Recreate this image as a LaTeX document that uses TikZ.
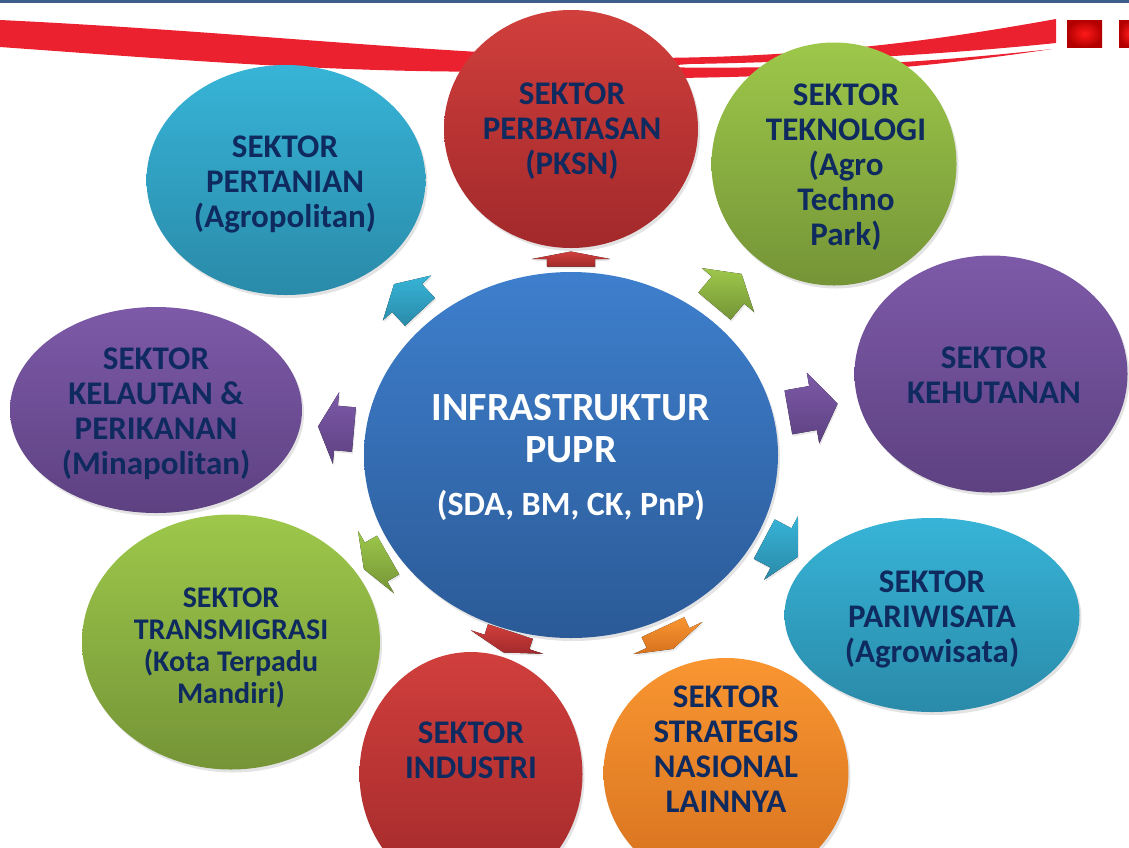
\documentclass[tikz,border=0pt]{standalone}
\usepackage{fontspec}
\setmainfont{Carlito}
\usetikzlibrary{shapes.geometric,shadows}

\definecolor{cyanlite}{HTML}{37B4D7}
\definecolor{cyandark}{HTML}{2A8AA9}
\definecolor{redlite}{HTML}{D03F3C}
\definecolor{reddark}{HTML}{A2292B}
\definecolor{greenlite}{HTML}{9DC84A}
\definecolor{greendark}{HTML}{759437}
\definecolor{purplelite}{HTML}{7D5AA8}
\definecolor{purpledark}{HTML}{5D4181}
\definecolor{orangelite}{HTML}{F99631}
\definecolor{orangedark}{HTML}{D6711E}
\definecolor{bluelite}{HTML}{3E7FCD}
\definecolor{bluedark}{HTML}{2B5A97}
\definecolor{navytext}{HTML}{0E2A5E}
\definecolor{swoosh}{HTML}{EC2130}
\definecolor{topline}{HTML}{3D5D8C}

\tikzset{
    sector/.style={
           ellipse,
           inner sep=0pt,
           drop shadow={opacity=0.22, shadow xshift=2pt, shadow yshift=-3pt},
           },
    sectortext/.style={
           align=center,
           text=navytext,
           inner sep=0pt,
           font=\fontsize{33}{35}\selectfont\bfseries,
           },
    hubtext/.style={
           align=center,
           text=white,
           inner sep=0pt,
           font=\fontsize{40}{42}\selectfont\bfseries,
           },
    pointer/.style={
           drop shadow={opacity=0.18, shadow xshift=1pt, shadow yshift=-2pt},
           },
}

\begin{document}
\begin{tikzpicture}[x=1pt, y=-1pt]
    \useasboundingbox (0,0) rectangle (1129,847);
    \clip (0,0) rectangle (1129,847);

    % header line, red swoosh and the two small red tiles
    \fill[topline] (0,0) rectangle (1129,2.5);
    \fill[swoosh] (0,20) .. controls (250,32) and (450,56) .. (640,58)
        .. controls (820,58) and (950,38) .. (1056,19) -- (1056,43)
        .. controls (960,53) and (820,62) .. (690,64)
        .. controls (450,82) and (250,65) .. (0,47) -- cycle;
    \fill[swoosh] (600,66) .. controls (820,72) and (950,60) .. (1052,49)
        .. controls (950,64) and (820,80) .. (600,78) -- cycle;
    \shade[inner color=red!90!white, outer color=red!70!black] (1067,20) rectangle (1102,47);
    \shade[inner color=red!90!white, outer color=red!70!black] (1119,20) rectangle (1140,47);

    % the sectors round the hub
    \node[sector,    	% layout (defined above)
    minimum width=279pt, minimum height=230pt,
    top color=cyanlite, bottom color=cyandark] (pertanian) 	% top left
    at (286,180) {};

    \node[sector,
    minimum width=254pt, minimum height=238pt,
    top color=redlite, bottom color=reddark] (perbatasan) 	% top
    at (571,129) {};

    \node[sector,
    minimum width=245pt, minimum height=243pt,
    top color=greenlite, bottom color=greendark] (teknologi) 	% top right
    at (834,164) {};

    \node[sector,
    minimum width=273pt, minimum height=237pt,
    top color=purplelite, bottom color=purpledark] (kehutanan) 	% right
    at (991,374) {};

    \node[sector,
    minimum width=292pt, minimum height=206pt,
    top color=purplelite, bottom color=purpledark] (kelautan) 	% left
    at (156,410) {};

    \node[sector,
    minimum width=298pt, minimum height=255pt,
    top color=greenlite, bottom color=greendark] (transmigrasi) 	% bottom left
    at (231,642) {};

    \node[sector,
    minimum width=223pt, minimum height=244pt,
    top color=redlite, bottom color=reddark] (industri) 	% bottom
    at (471,774) {};

    \node[sector,
    minimum width=245pt, minimum height=230pt,
    top color=orangelite, bottom color=orangedark] (strategis) 	% bottom
    at (726,773) {};

    \node[sector,
    minimum width=295pt, minimum height=194pt,
    top color=cyanlite, bottom color=cyandark] (pariwisata) 	% bottom right
    at (932,615) {};

    \node[sector,
    minimum width=414pt, minimum height=366pt,
    top color=bluelite, bottom color=bluedark] (pupr) 	% the hub
    at (571,455) {};

    % texts of the sectors
    \node[sectortext] (pertaniantext) at (285,184) {SEKTOR\\PERTANIAN\\(Agropolitan)};
    \node[sectortext] (perbatasantext) at (572,131) {SEKTOR\\PERBATASAN\\(PKSN)};
    \node[sectortext] (teknologitext) at (846,167) {SEKTOR\\TEKNOLOGI\\(Agro\\Techno\\Park)};
    \node[sectortext] (kehutanantext) at (994,375) {SEKTOR\\KEHUTANAN};
    \node[sectortext] (kelautantext) at (156,414) {SEKTOR\\KELAUTAN \&\\PERIKANAN\\(Minapolitan)};
    \node[sectortext, font=\fontsize{30}{32}\selectfont\bfseries] (transmigrasitext)
        at (231,648) {SEKTOR\\TRANSMIGRASI\\(Kota Terpadu\\Mandiri)};
    \node[sectortext] (industritext) at (471,750) {SEKTOR\\INDUSTRI};
    \node[sectortext] (strategistext) at (726,749) {SEKTOR\\STRATEGIS\\NASIONAL\\LAINNYA};
    \node[sectortext] (pariwisatatext) at (932,619) {SEKTOR\\PARIWISATA\\(Agrowisata)};

    \node[hubtext] (puprtitle) at (571,429) {INFRASTRUKTUR\\PUPR};
    \node[hubtext, font=\fontsize{34}{40}\selectfont\bfseries] (puprunits) at (571,505) {(SDA, BM, CK, PnP)};

    % block arrows from the hub out to each sector
    \foreach \px/\py/\ang/\len/\wid/\lite/\dark in {
        571/259/90/15/78/redlite/reddark,
        407/298/133/38/66/cyanlite/cyandark,
        728/290/50/42/68/greenlite/greendark,
        813/408/10/50/72/purplelite/purpledark,
        336/428/175/36/72/purplelite/purpledark,
        781/548/-28/38/72/cyanlite/cyandark,
        376/562/210/28/72/greenlite/greendark,
        507/642/252/22/76/redlite/reddark,
        668/638/295/24/76/orangelite/orangedark}
    {
        \fill[pointer, top color=\lite, bottom color=\dark, shift={(\px,\py)}, rotate=\ang]
            ({-\len/2},{-0.31*\wid}) -- (0,{-0.31*\wid}) -- (0,{-\wid/2}) -- ({\len/2},0)
            -- (0,{\wid/2}) -- (0,{0.31*\wid}) -- ({-\len/2},{0.31*\wid}) -- cycle;
    }
\end{tikzpicture}
\end{document}
